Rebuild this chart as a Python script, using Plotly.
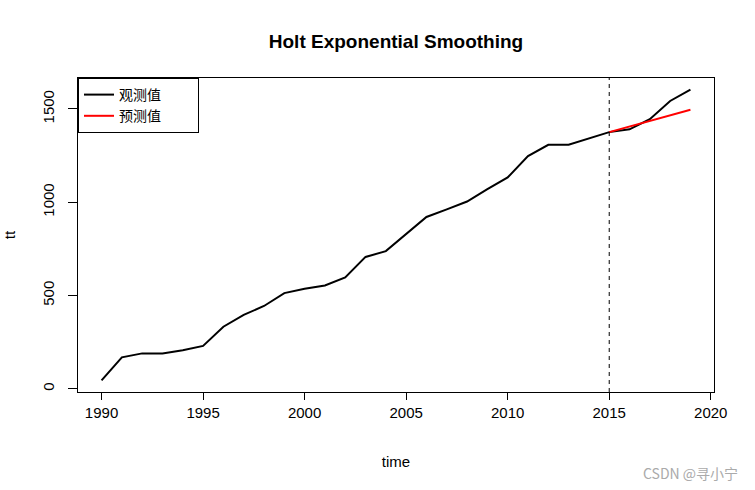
import plotly.graph_objects as go

years = list(range(1990, 2020))
observed = [45, 169, 190, 190, 207, 230, 333, 396, 444, 513,
            536, 554, 597, 707, 738, 827, 921, 962, 1004, 1070,
            1133, 1247, 1308, 1308, 1344, 1376, 1391, 1445, 1543, 1604]
fc_years = [2015, 2016, 2017, 2018, 2019]
forecast = [1376, 1406, 1436, 1466, 1496]
split_year = 2015

font_main = "Liberation Sans, Arial, sans-serif"
font_cjk = "Noto Sans CJK SC, sans-serif"
pad = "&nbsp;" * 10

fig = go.Figure()
fig.add_trace(go.Scatter(x=years, y=observed, mode="lines", name="观测值" + pad,
                         line=dict(color="black", width=2)))
fig.add_trace(go.Scatter(x=fc_years, y=forecast, mode="lines", name="预测值" + pad,
                         line=dict(color="red", width=2)))

fig.add_shape(type="line", x0=split_year, x1=split_year, xref="x", yref="paper",
              y0=0, y1=1, line=dict(color="black", width=1, dash="4px,4px"))

fig.update_layout(
    width=755, height=490,
    margin=dict(l=78, r=41, t=78, b=98),
    paper_bgcolor="white", plot_bgcolor="white",
    title=dict(text="<b>Holt Exponential Smoothing</b>", x=(78 + 714) / 2 / 755, xanchor="center",
               y=1 - 41 / 490, yanchor="middle",
               font=dict(family=font_main, size=19, color="black")),
    showlegend=True,
    legend=dict(x=0, y=1, xanchor="left", yanchor="top",
                bordercolor="black", borderwidth=1, bgcolor="white",
                font=dict(family=font_cjk, size=14, color="black"),
                itemwidth=30, tracegroupgap=0),
    font=dict(family=font_main, size=15, color="black"),
)

fig.update_xaxes(range=[1988.84, 2020.16], tickvals=[1990, 1995, 2000, 2005, 2010, 2015, 2020],
                 ticks="outside", ticklen=7, tickcolor="black", showline=True, linecolor="black",
                 linewidth=1, mirror=True, showgrid=False, zeroline=False, automargin=False,
                 title=dict(text="time", standoff=36, font=dict(size=15)),
                 tickfont=dict(size=15))
fig.update_yaxes(range=[-17, 1666], tickvals=[0, 500, 1000, 1500],
                 ticks="outside", ticklen=9, tickcolor="black", showline=True, linecolor="black",
                 linewidth=1, mirror=True, showgrid=False, zeroline=False, tickangle=-90,
                 ticklabelstandoff=8, automargin=False,
                 title=dict(text="tt", standoff=20, font=dict(size=15)),
                 tickfont=dict(size=15))

fig.add_annotation(text="CSDN @寻小宁", xref="paper", yref="paper",
                   x=(740 - 78) / (714 - 78), y=-(473 - 392) / (392 - 78),
                   xanchor="right", yanchor="middle", showarrow=False,
                   font=dict(family=font_cjk, size=14, color="#aaaaaa"))

fig.write_html("out.html", config={"displayModeBar": False},
               post_script="document.body.style.margin='0';")
